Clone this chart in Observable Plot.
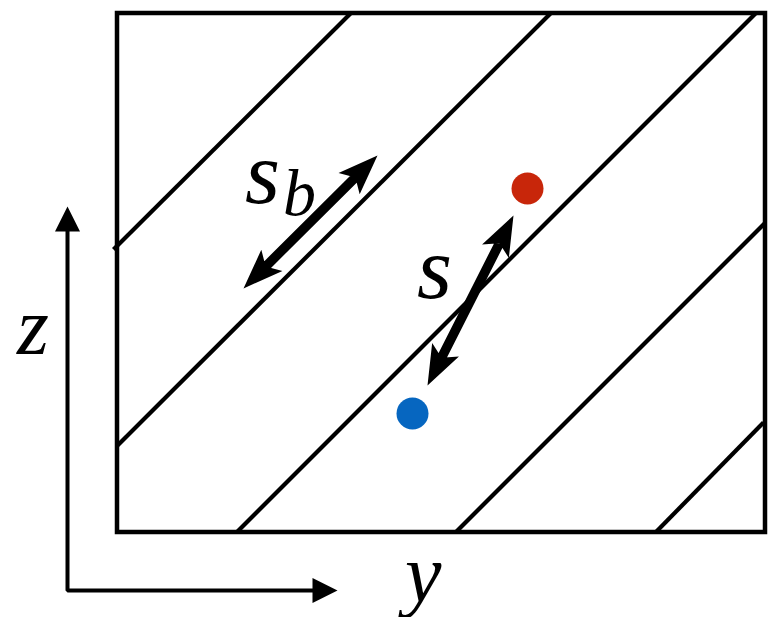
<!DOCTYPE html>
<html>
<head>
<meta charset="utf-8">
<script src="https://cdn.jsdelivr.net/npm/d3@7"></script>
<script src="https://cdn.jsdelivr.net/npm/@observablehq/plot@0.6"></script>
<style>
  @font-face {
    font-family: "MathItalic";
    font-style: italic;
    src: local("Liberation Serif Italic"), local("LiberationSerif-Italic"), local("DejaVu Serif Italic"), local("DejaVuSerif-Italic"), local("Times New Roman Italic");
  }
  @font-face {
    font-family: "MathItalic";
    font-style: normal;
    src: local("Liberation Serif Italic"), local("LiberationSerif-Italic"), local("DejaVu Serif Italic"), local("DejaVuSerif-Italic"), local("Times New Roman Italic");
  }
  html, body { margin: 0; padding: 0; background: #fff; }
  #chart svg { display: block; }
  #chart svg text { font-family: "MathItalic", "Liberation Serif", "DejaVu Serif", serif !important; }
</style>
</head>
<body>
<div id="chart"></div>
<script>
// Diagram coordinates: horizontal "y" and vertical "z" (z upward), in drawing units.
const boxY = [117, 765];
const boxZ = [85, 604];

// Hatch lines (sloped strata): start and end points
const hatchY1 = [113, 117, 236, 455, 655];
const hatchZ1 = [368, 172, 85, 85, 85];
const hatchY2 = [350, 550, 755, 765, 763];
const hatchZ2 = [604, 604, 604, 395, 195];

// Two points
const pointNames = ["red", "blue"];
const pointY = [527, 412];
const pointZ = [429, 204];
const pointColors = ["#c8260a", "#0666c0"];

// Double-headed arrows (s_b and s): tail tip -> head tip
const arrowNames = ["s_b", "s"];
const arrowY1 = [243, 427];
const arrowZ1 = [329, 232];
const arrowY2 = [377, 513];
const arrowZ2 = [462, 402];

// Coordinate axes: origin, z-tip, y-tip
const axisOrigin = [67, 27];
const axisZTip = [67, 411];
const axisYTip = [337, 27];

// Labels
const labelText = ["z", "y", "s", "s", "b"];
const labelY = [32, 422, 434, 262, 299];
const labelZ = [264, 17, 320, 415, 403];   // baselines
const labelSize = [82, 82, 90, 90, 66];

const hatch = hatchY1.map((y1, i) => ({y1, z1: hatchZ1[i], y2: hatchY2[i], z2: hatchZ2[i]}));
const points = pointNames.map((n, i) => ({n, y: pointY[i], z: pointZ[i], c: pointColors[i]}));
const arrows = arrowNames.map((n, i) => {
  const dy = arrowY2[i] - arrowY1[i], dz = arrowZ2[i] - arrowZ1[i];
  return {n, y: arrowY1[i], z: arrowZ1[i], len: Math.hypot(dy, dz), rot: Math.atan2(dy, dz) * 180 / Math.PI};
});
const axisHeads = [axisZTip, axisYTip].map(([y, z]) => {
  const dy = y - axisOrigin[0], dz = z - axisOrigin[1];
  return {y, z, len: 25, rot: Math.atan2(dy, dz) * 180 / Math.PI};
});
const labels = labelText.map((t, i) => ({t, y: labelY[i], z: labelZ[i], s: labelSize[i]}));

function arrowShape({w, h, hw, notch, start, end}) {
  return {
    draw(ctx, l) {
      const s0 = start ? h * notch : 0;
      const s1 = end ? l - h * notch : l;
      if (w > 0) {
        ctx.moveTo(-w / 2, -s0); ctx.lineTo(w / 2, -s0); ctx.lineTo(w / 2, -s1); ctx.lineTo(-w / 2, -s1); ctx.closePath();
      }
      if (end) {
        ctx.moveTo(0, -l); ctx.lineTo(-hw, -(l - h)); ctx.lineTo(0, -(l - h * notch)); ctx.lineTo(hw, -(l - h)); ctx.closePath();
      }
      if (start) {
        ctx.moveTo(0, 0); ctx.lineTo(hw, -h); ctx.lineTo(0, -h * notch); ctx.lineTo(-hw, -h); ctx.closePath();
      }
    }
  };
}

const bigArrow = arrowShape({w: 9.5, h: 40, hw: 15, notch: 0.78, start: true, end: true});
const axisHead = arrowShape({w: 0, h: 25, hw: 12.5, notch: 1, start: false, end: true});

const serif = "MathItalic, Liberation Serif, DejaVu Serif, serif";

const chart = Plot.plot({
  width: 768,
  height: 617,
  margin: 0,
  style: {background: "#fff"},
  x: {domain: [0, 768], range: [0, 768], axis: null},
  y: {domain: [0, 617], range: [617, 0], axis: null},
  length: {type: "identity"},
  marks: [
    Plot.link(hatch, {x1: "y1", y1: "z1", x2: "y2", y2: "z2", stroke: "black", strokeWidth: 4.2, strokeLinecap: "butt"}),
    Plot.rect([{}], {x1: boxY[0], x2: boxY[1], y1: boxZ[0], y2: boxZ[1], fill: "none", stroke: "black", strokeWidth: 4.5}),
    Plot.dot(points, {x: "y", y: "z", r: 16, fill: "c", stroke: "none"}),
    Plot.vector(arrows, {x: "y", y: "z", length: "len", rotate: "rot", anchor: "start", shape: bigArrow, fill: "black", stroke: "none"}),
    Plot.line([
      {y: axisZTip[0], z: axisZTip[1] - 24},
      {y: axisOrigin[0], z: axisOrigin[1]},
      {y: axisYTip[0] - 24, z: axisYTip[1]}
    ], {x: "y", y: "z", stroke: "black", strokeWidth: 4, strokeLinejoin: "miter", strokeLinecap: "butt"}),
    Plot.vector(axisHeads, {x: "y", y: "z", length: "len", rotate: "rot", anchor: "end", shape: axisHead, fill: "black", stroke: "none"}),
    Plot.text(labels, {x: "y", y: "z", text: "t", fontSize: "s", fontFamily: serif, fontStyle: "italic", lineAnchor: "bottom", textAnchor: "middle", fill: "black"})
  ]
});
document.getElementById("chart").appendChild(chart);
</script>
</body>
</html>
